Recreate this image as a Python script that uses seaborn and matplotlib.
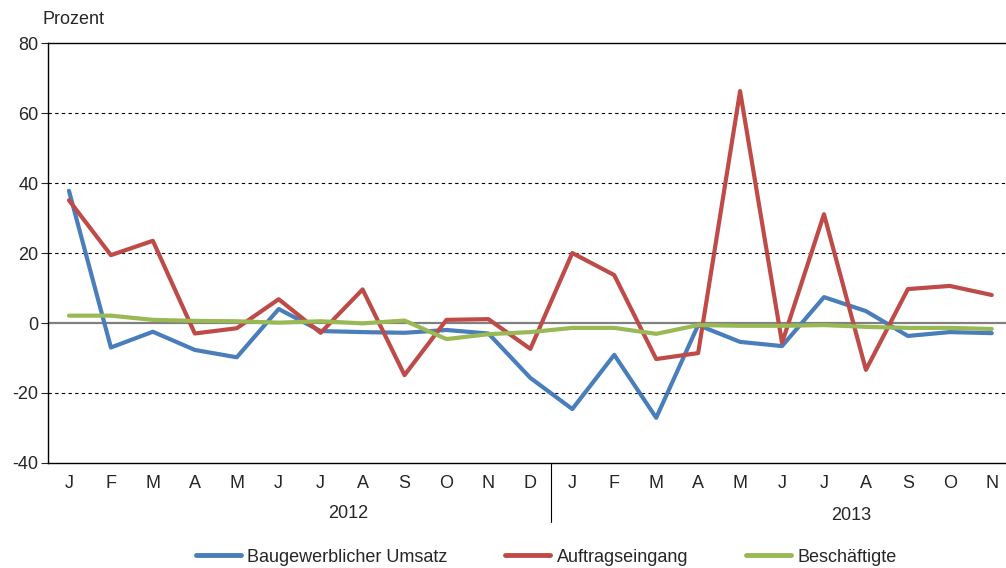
import numpy as np
import pandas as pd
import matplotlib
matplotlib.use('Agg')
import matplotlib.pyplot as plt
import seaborn as sns

months = ['J', 'F', 'M', 'A', 'M', 'J', 'J', 'A', 'S', 'O', 'N', 'D',
          'J', 'F', 'M', 'A', 'M', 'J', 'J', 'A', 'S', 'O', 'N']
years = ['2012', '2013']

umsatz = [37.8, -7.0, -2.5, -7.7, -9.8, 4.0, -2.3, -2.6, -2.8, -2.0, -3.0, -15.7,
          -24.6, -9.1, -27.1, -0.6, -5.4, -6.6, 7.4, 3.4, -3.7, -2.6, -2.9]
auftrag = [35.1, 19.4, 23.5, -3.0, -1.5, 6.8, -2.8, 9.6, -14.9, 0.9, 1.1, -7.4,
           20.0, 13.7, -10.3, -8.6, 66.3, -5.7, 31.1, -13.4, 9.7, 10.6, 8.0]
beschaeftigte = [2.1, 2.1, 0.9, 0.6, 0.5, 0.1, 0.5, -0.1, 0.7, -4.6, -3.2, -2.6,
                 -1.4, -1.4, -3.1, -0.6, -0.8, -0.8, -0.6, -1.1, -1.4, -1.4, -1.7]

series_names = ['Baugewerblicher Umsatz', 'Auftragseingang', 'Beschäftigte']
colors = ['#4A7EBB', '#BE4B48', '#98B954']

idx = np.arange(len(months))
df = pd.DataFrame({
    'pos': np.tile(idx, 3),
    'wert': umsatz + auftrag + beschaeftigte,
    'reihe': np.repeat(series_names, len(months)),
})

sns.set_style('white')
plt.rcParams['font.family'] = ['Liberation Sans', 'DejaVu Sans']
plt.rcParams['axes.unicode_minus'] = False

fig = plt.figure(figsize=(10.06, 5.68), dpi=100)
ax = fig.add_axes([0.0477, 0.185, 0.959, 0.739])

# gridlines first so the lines sit on top
for g in [-20, 20, 40, 60]:
    ax.axhline(g, color='black', lw=0.8, ls=(0, (3, 3)), zorder=1)
ax.axhline(0, color='#808080', lw=1.6, zorder=1)

sns.lineplot(data=df, x='pos', y='wert', hue='reihe', palette=colors,
             hue_order=series_names, lw=3.0, ax=ax, legend=False, zorder=3,
             solid_joinstyle='round')

ax.set_xlim(-0.5, len(months) - 0.5)
ax.set_ylim(-40, 80)
ax.set_yticks(range(-40, 81, 20))
ax.set_xticks(idx)
ax.set_xticklabels(months, fontsize=13)
ax.tick_params(axis='x', length=0, pad=9)
ax.tick_params(axis='y', length=5, width=0.8, direction='out', labelsize=13, pad=2, left=True)
ax.set_xlabel('')
ax.set_ylabel('')

for side in ['left', 'bottom', 'top']:
    ax.spines[side].set_color('black')
    ax.spines[side].set_linewidth(1.0)
ax.spines['right'].set_visible(False)

# year labels and group separator
ax.text(6.65, -54.5, years[0], ha='center', va='center', fontsize=13,
        transform=ax.transData, clip_on=False)
ax.text(18.65, -55.0, years[1], ha='center', va='center', fontsize=13,
        transform=ax.transData, clip_on=False)
ax.plot([11.5, 11.5], [-40, -57], color='black', lw=0.8, clip_on=False)

fig.text(0.042, 0.966, 'Prozent', fontsize=13, ha='left', va='center')

handles = [plt.Line2D([0], [0], color=c, lw=3.5) for c in colors]
fig.legend(handles, series_names, loc='center', bbox_to_anchor=(0.543, 0.019),
           ncol=3, frameon=False, fontsize=13, handlelength=2.5,
           columnspacing=3.2, handletextpad=0.35)

fig.savefig('out.png', dpi=100)
